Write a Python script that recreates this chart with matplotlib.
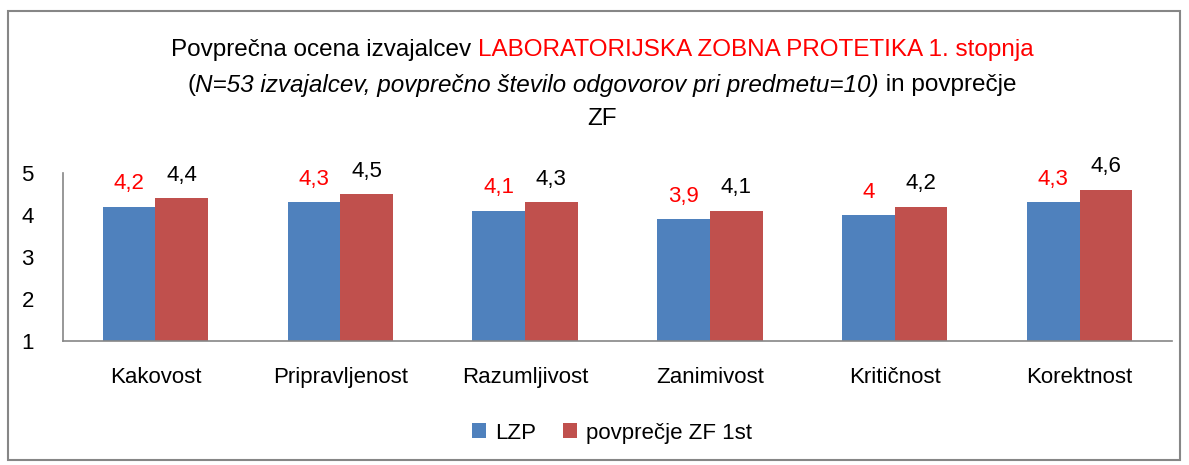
import matplotlib
matplotlib.use('Agg')
import numpy as np
from matplotlib import pyplot as plt
from matplotlib.patches import Rectangle

categories = ['Kakovost', 'Pripravljenost', 'Razumljivost', 'Zanimivost', 'Kritičnost', 'Korektnost']
lzp = [4.2, 4.3, 4.1, 3.9, 4.0, 4.3]
zf = [4.4, 4.5, 4.3, 4.1, 4.2, 4.6]
lzp_labels = ['4,2', '4,3', '4,1', '3,9', '4', '4,3']
zf_labels = ['4,4', '4,5', '4,3', '4,1', '4,2', '4,6']

plt.rcParams['font.family'] = ['Liberation Sans', 'DejaVu Sans']

blue = '#4F81BD'
red = '#C0504D'
W, H = 1189, 465

fig = plt.figure(figsize=(W/100, H/100), dpi=100)
ax = fig.add_axes([63/W, 1-341/H, (1172-63)/W, (341-173)/H])

x = np.arange(len(categories))
bw = 0.285
ax.bar(x - bw/2, [v - 1 for v in lzp], bw, bottom=1, color=blue, label='LZP')
ax.bar(x + bw/2, [v - 1 for v in zf], bw, bottom=1, color=red, label='povprečje ZF 1st')

for i in range(len(categories)):
    ax.annotate(lzp_labels[i], (x[i] - bw/2, lzp[i]), xytext=(0, 9), textcoords='offset points',
                ha='center', va='bottom', color='red', fontsize=16)
    ax.annotate(zf_labels[i], (x[i] + bw/2, zf[i]), xytext=(0, 9), textcoords='offset points',
                ha='center', va='bottom', color='black', fontsize=16)

ax.set_xlim(-0.5, len(categories) - 0.5)
ax.set_ylim(1, 5)
ax.set_yticks([1, 2, 3, 4, 5])
ax.set_xticks(x)
ax.set_xticklabels(categories, fontsize=16)
ax.tick_params(axis='y', length=0, pad=21, labelsize=16)
ax.tick_params(axis='x', length=0, pad=19)
for s in ['top', 'right']:
    ax.spines[s].set_visible(False)
for s in ['left', 'bottom']:
    ax.spines[s].set_color('#868686')
    ax.spines[s].set_linewidth(1.2)

leg = fig.legend(loc='center', bbox_to_anchor=(612/W, 1-433/H), ncol=2, frameon=False,
                 fontsize=16, handlelength=0.65, handleheight=0.65, columnspacing=1.2, handletextpad=0.4)

# title pieces with mixed colours / styles
fs = 17.5
lines = [
    [("Povprečna ocena izvajalcev ", 'black', 'normal'),
     ("LABORATORIJSKA ZOBNA PROTETIKA 1. stopnja", 'red', 'normal')],
    [("(", 'black', 'normal'),
     ("N=53 izvajalcev, povprečno število odgovorov pri predmetu=10)", 'black', 'italic'),
     (" in povprečje", 'black', 'normal')],
    [("ZF", 'black', 'normal')],
]
ys = [50, 85, 119]
renderer = fig.canvas.get_renderer()
cx = 602
for parts, yp in zip(lines, ys):
    texts = []
    for s, c, st in parts:
        t = fig.text(0, 1-yp/H, s, color=c, style=st, fontsize=fs, va='center', ha='left')
        texts.append(t)
    widths = [t.get_window_extent(renderer).width for t in texts]
    total = sum(widths)
    xpos = cx - total/2
    for t, w in zip(texts, widths):
        t.set_x(xpos/W)
        xpos += w

fig.patches.append(Rectangle((8/W, 1-460/H), (1180-8)/W, (460-11)/H, transform=fig.transFigure,
                             fill=False, edgecolor='#868686', linewidth=1.5))

fig.savefig('out.png', dpi=100)
